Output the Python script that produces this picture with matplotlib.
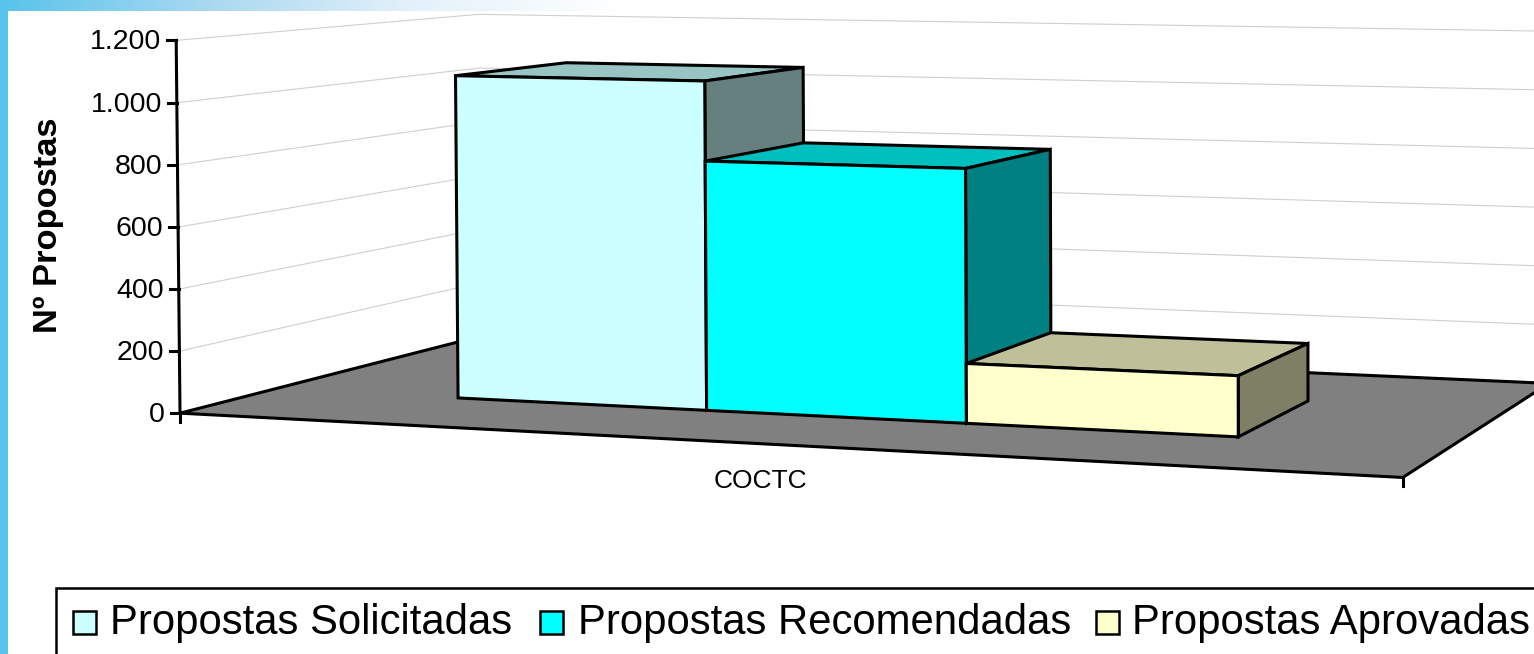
import matplotlib
matplotlib.use('Agg')
import matplotlib.pyplot as plt
from matplotlib.patches import Polygon, Rectangle
import numpy as np

plt.rcParams['font.family'] = ['Liberation Sans', 'DejaVu Sans']

series = ['Propostas Solicitadas', 'Propostas Recomendadas', 'Propostas Aprovadas']
category = 'COCTC'
values = [1067, 808, 190]
ticks = [0, 200, 400, 600, 800, 1000, 1200]
tick_labels = ['0', '200', '400', '600', '800', '1.000', '1.200']
ylabel = 'Nº Propostas'

# cores: frente, topo, lado
front = ['#CCFFFF', '#00FFFF', '#FFFFCC']
top = ['#99C4C4', '#00BFBF', '#BFBF99']
side = ['#667F7F', '#008080', '#7F7F66']

# camera: (u, d, v/1200) -> pixels
cam_3d = [(0, 0, 0), (1, 0, 0), (1, 1, 0), (0, 1, 0), (0, 0, 1), (0, 1, 1), (1, 1, 1)]
cam_px = [(181, 413), (1403, 477), (1549, 384), (480, 336), (175, 41), (480, 14), (1549, 31)]


def fit_camera():
    rows = []
    for (u, d, v), (x, y) in zip(cam_3d, cam_px):
        rows.append([u, d, v, 1, 0, 0, 0, 0, -x*u, -x*d, -x*v, -x])
        rows.append([0, 0, 0, 0, u, d, v, 1, -y*u, -y*d, -y*v, -y])
    return np.linalg.svd(np.array(rows, dtype=float))[2][-1].reshape(3, 4)


P = fit_camera()


def proj(u, d, val=0):
    p = P @ np.array([u, d, val / 1200, 1.0])
    return p[0] / p[2], p[1] / p[2]


fig = plt.figure(figsize=(15.34, 6.54), dpi=100)
ax = fig.add_axes([0, 0, 1, 1])

# fundo
cmap = matplotlib.colors.LinearSegmentedColormap.from_list('b', ['#58C4EC', '#A8D8F0', '#E4F1FA', '#FFFFFF'])
ax.imshow(np.linspace(0, 1, 256).reshape(1, -1), extent=(0, 620, 11, 0), aspect='auto', cmap=cmap, zorder=0)
ax.set_xlim(0, 1534)
ax.set_ylim(654, 0)
ax.axis('off')
ax.add_patch(Rectangle((0, 0), 8, 654, fc='#58C4EC', ec='none', zorder=1))

# grade
for t in ticks[1:]:
    ax.plot(*zip(proj(0, 0, t), proj(0, 1, t), proj(1, 1, t)), color='#CFCFCF', lw=0.8, zorder=2)

# chao
floor = [proj(0, 0), proj(1, 0), proj(1, 1), proj(0, 1)]
ax.add_patch(Polygon(floor, fc='#808080', ec='black', lw=2.2, zorder=3))

# eixo de valores
ax.plot(*zip(proj(0, 0, 0), proj(0, 0, 1200)), color='black', lw=2.2, zorder=4)
for t, lab in zip(ticks, tick_labels):
    x, y = proj(0, 0, t)
    ax.plot([x - 9, x], [y, y], color='black', lw=2.2, zorder=4)
    ax.text(x - 15, y + 2, lab, ha='right', va='center', fontsize=20.5, color='black')
for u in (0, 1):
    x, y = proj(u, 0)
    ax.plot([x, x], [y, y + 9], color='black', lw=2.2, zorder=2)
ax.text(760, 481, category, ha='center', va='center', fontsize=19, color='black')
ax.text(49, 225, ylabel, rotation=90, ha='center', va='center', fontsize=24.8, fontweight='bold')

# barras
u0 = 0.1695
bar_w = 0.2217
d0, d1 = 0.285, 0.68
for i, val in enumerate(values):
    a = u0 + i * bar_w
    b = a + bar_w
    z = 5 + i
    ax.add_patch(Polygon([proj(a, d0, val), proj(b, d0, val), proj(b, d1, val), proj(a, d1, val)],
                         fc=top[i], ec='black', lw=2.2, zorder=z))
    ax.add_patch(Polygon([proj(b, d0), proj(b, d1), proj(b, d1, val), proj(b, d0, val)],
                         fc=side[i], ec='black', lw=2.2, zorder=z))
    ax.add_patch(Polygon([proj(a, d0), proj(b, d0), proj(b, d0, val), proj(a, d0, val)],
                         fc=front[i], ec='black', lw=2.2, zorder=z))

# legenda
ax.add_patch(Rectangle((56, 588), 1600, 100, fc='white', ec='black', lw=1.8, zorder=8))
leg_x = [73, 540, 1096]
txt_x = [110, 578, 1132]
for lx, tx, name, c in zip(leg_x, txt_x, series, front):
    ax.add_patch(Rectangle((lx, 611), 23, 23, fc=c, ec='black', lw=1.8, zorder=9))
    ax.text(tx, 623, name, ha='left', va='center', fontsize=30.2, zorder=9)

fig.savefig('out.png', dpi=100)
